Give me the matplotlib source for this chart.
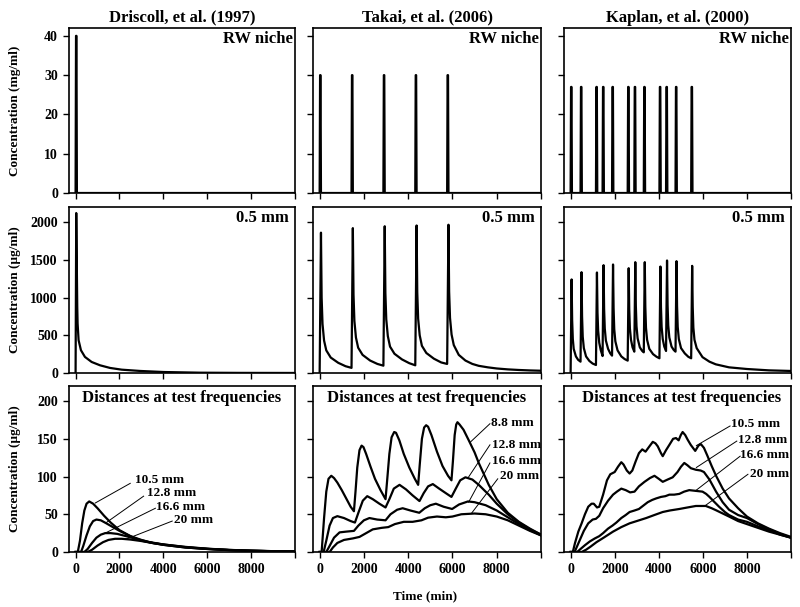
import matplotlib
matplotlib.use("Agg")
import matplotlib.pyplot as plt

plt.rcParams['font.family'] = ['Liberation Serif', 'DejaVu Serif']
plt.rcParams['font.weight'] = 'bold'

# Study titles (columns)
studies = ['Driscoll, et al. (1997)', 'Takai, et al. (2006)', 'Kaplan, et al. (2000)']

# Row 1: RW niche dosing pulses (mg/ml)
pulse_len = 60
driscoll_doses = [0]
driscoll_height = 40
takai_doses = [0, 1440, 2880, 4320, 5760]
takai_height = 30
kaplan_doses = [0, 450, 1150, 1450, 1880, 2590, 2890, 3320, 4030, 4330, 4760, 5470]
kaplan_height = 27

# Row 2: concentration at 0.5 mm (ug/ml)
driscoll_05_t = [0, 30, 76, 92, 137, 244, 427, 733, 1115, 1572, 2107, 2947, 4015, 5695, 7500, 10000]
driscoll_05_c = [0, 2120, 878, 656, 435, 302, 213, 146, 102, 67, 44, 27, 13, 4, 1.5, 0.5]

takai_05_t = [0, 60, 90, 130, 200, 300, 500, 840, 1170, 1440,
              1500, 1530, 1570, 1640, 1740, 1940, 2280, 2610, 2880,
              2940, 2970, 3010, 3080, 3180, 3380, 3720, 4050, 4320,
              4380, 4410, 4450, 4520, 4620, 4820, 5160, 5490, 5760,
              5820, 5850, 5890, 5960, 6060, 6285, 6586, 6900, 7188, 7600, 8000, 8500, 9000, 9500, 10000]
takai_05_c = [0, 1860, 1000, 650, 430, 300, 205, 135, 90, 68,
              1920, 1040, 690, 470, 335, 240, 165, 120, 97,
              1945, 1060, 710, 490, 350, 255, 180, 130, 102,
              1955, 1070, 720, 500, 360, 265, 190, 140, 120,
              1965, 1080, 730, 510, 370, 240, 165, 120, 95, 75, 60, 48, 40, 34, 30]

kaplan_05_t = [0, 45, 70, 100, 140, 240, 340, 450,
               495, 520, 550, 600, 700, 850, 1000, 1150,
               1195, 1220, 1250, 1300, 1370, 1450,
               1495, 1520, 1550, 1600, 1700, 1800, 1880,
               1925, 1950, 1980, 2030, 2130, 2300, 2450, 2590,
               2635, 2660, 2690, 2740, 2810, 2890,
               2935, 2960, 2990, 3040, 3140, 3240, 3320,
               3365, 3390, 3420, 3470, 3570, 3740, 3900, 4030,
               4075, 4100, 4130, 4180, 4250, 4330,
               4375, 4400, 4430, 4480, 4580, 4680, 4760,
               4805, 4830, 4860, 4910, 5010, 5180, 5340, 5470,
               5515, 5540, 5570, 5620, 5720, 5985, 6300, 6586, 7188, 8000, 9000, 10000]
kaplan_05_c = [0, 1240, 700, 450, 320, 220, 175, 150,
               1336, 750, 480, 330, 220, 160, 125, 106,
               1332, 800, 560, 400, 300, 225,
               1429, 850, 590, 430, 320, 260, 230,
               1438, 860, 580, 420, 300, 220, 185, 164,
               1389, 850, 590, 440, 340, 283,
               1469, 890, 620, 460, 340, 295, 274,
               1469, 880, 600, 440, 320, 250, 215, 195,
               1411, 870, 610, 450, 350, 292,
               1491, 900, 630, 470, 350, 305, 283,
               1482, 890, 610, 450, 330, 260, 215, 195,
               1420, 880, 600, 440, 330, 210, 150, 115, 75, 53, 35, 27]

# Row 3: distances at test frequencies (ug/ml)
drisc_105_t = [0, 100, 200, 300, 400, 500, 620, 800, 1000, 1300, 1600, 2000, 2500, 3000, 3500, 4000, 5000, 6000, 7000, 8000, 9000, 10000]
drisc_105_c = [0, 0, 15, 38, 55, 64, 67, 64, 58, 48, 39, 29, 21, 15, 12, 9.5, 6, 4, 2.5, 1.6, 1, 0.7]
drisc_128_t = [0, 250, 350, 500, 650, 800, 950, 1150, 1400, 1700, 2000, 2500, 3000, 3500, 4000, 5000, 6000, 7000, 8000, 9000, 10000]
drisc_128_c = [0, 0, 8, 22, 34, 41, 43, 42, 38, 33, 28, 21, 16, 12, 9.5, 6, 4, 2.5, 1.6, 1, 0.7]
drisc_166_t = [0, 400, 550, 750, 950, 1150, 1350, 1600, 1900, 2300, 2800, 3300, 4000, 5000, 6000, 7000, 8000, 9000, 10000]
drisc_166_c = [0, 0, 4, 12, 19, 23, 25, 25, 24, 21, 17, 13.5, 10, 6.5, 4.2, 2.7, 1.7, 1.1, 0.7]
drisc_20_t = [0, 550, 750, 1000, 1250, 1500, 1800, 2100, 2500, 3000, 3500, 4000, 5000, 6000, 7000, 8000, 9000, 10000]
drisc_20_c = [0, 0, 3, 8.5, 13, 16, 17.5, 17.5, 16.5, 14.5, 12, 10, 6.8, 4.4, 2.8, 1.8, 1.1, 0.7]

takai_88_t = [0, 90, 200, 300, 400, 526, 650, 800, 1000, 1200, 1400, 1549, 1620, 1700, 1800, 1895,
              1980, 2100, 2300, 2500, 2750, 2977, 3050, 3150, 3250, 3368, 3450, 3600, 3800, 4050, 4300, 4451,
              4520, 4620, 4720, 4812, 4900, 5050, 5300, 5550, 5800, 5955, 6020, 6100, 6170, 6226, 6320, 6500,
              6737, 7000, 7188, 7639, 8000, 8500, 9000, 9500, 10000]
takai_88_c = [0, 0, 45, 80, 97, 101, 98, 92, 82, 71, 60, 54, 80, 112, 135, 141,
              139, 130, 113, 97, 82, 70, 95, 130, 152, 159, 158, 148, 130, 112, 97, 89,
              115, 150, 165, 168, 166, 155, 133, 114, 101, 95, 120, 155, 169, 172, 169, 162,
              148, 132, 118, 89, 70, 52, 40, 31, 23]
takai_128_t = [0, 180, 300, 450, 600, 800, 1100, 1400, 1594, 1750, 1950, 2150, 2400, 2700, 2977, 3150, 3350, 3609,
               3900, 4200, 4511, 4700, 4900, 5113, 5400, 5700, 5955, 6150, 6350, 6586, 6900, 7188, 7639, 8000,
               8500, 9000, 9500, 10000]
takai_128_c = [0, 0, 15, 35, 45, 47.5, 45, 41, 39, 52, 68, 74, 70, 64, 59, 70, 84, 89,
               83, 75, 67.5, 78, 87, 90, 84, 78, 73, 84, 95, 99, 96, 89, 76, 64,
               50, 39, 30, 23]
takai_166_t = [0, 300, 450, 650, 900, 1200, 1550, 1750, 2000, 2250, 2600, 2977, 3200, 3500, 3750, 4100, 4500,
               4750, 5000, 5250, 5600, 5985, 6300, 6700, 7000, 7500, 8000, 8500, 9000, 9500, 10000]
takai_166_c = [0, 0, 8, 19, 26, 27, 28, 35, 42, 45, 43, 42, 50, 56, 58, 55, 52,
               58, 62, 64, 60, 57, 63, 67, 66, 62, 55, 46, 37, 29, 22]
takai_20_t = [0, 450, 600, 800, 1100, 1500, 1800, 2100, 2400, 2800, 3100, 3400, 3800, 4200, 4600, 4900, 5300,
              5700, 6000, 6400, 7000, 7500, 8000, 8500, 9000, 9500, 10000]
takai_20_c = [0, 0, 6, 12, 16, 18, 20, 25, 30, 32, 33, 37, 40, 40, 42, 45.5, 47,
              46, 47, 50, 51, 50, 47, 42, 35, 28, 22]

kaplan_105_t = [0, 100, 200, 350, 500, 650, 800, 950, 1050, 1200, 1300, 1474, 1650, 1800, 2000, 2150, 2300, 2400,
                2550, 2677, 2800, 2950, 3100, 3250, 3400, 3550, 3729, 3850, 3955, 4100, 4180, 4330, 4481, 4650,
                4782, 4902, 5000, 5083, 5200, 5308, 5450, 5654, 5800, 5910, 6050, 6200, 6400, 6600, 6900, 7188,
                7600, 8000, 8500, 9000, 9500, 10000]
kaplan_105_c = [0, 0, 12, 27, 38, 50, 60, 64, 64, 59, 60, 76, 95, 103, 106, 113, 119, 116,
                108, 104, 108, 120, 131, 136, 133, 139, 146, 144, 140, 131, 127, 135, 142, 150,
                151, 148, 155, 159, 155, 149, 142, 134, 141, 143, 138, 128, 114, 101, 84, 71,
                58, 47, 38, 31, 25, 20]
kaplan_128_t = [0, 180, 300, 450, 600, 800, 1000, 1150, 1300, 1474, 1700, 1925, 2100, 2300, 2500, 2700, 2900,
                3100, 3353, 3600, 3805, 4000, 4180, 4400, 4632, 4850, 5008, 5158, 5300, 5459, 5684, 5900, 6050,
                6300, 6600, 6900, 7188, 7600, 8000, 8500, 9000, 9500, 10000]
kaplan_128_c = [0, 0, 8, 18, 28, 38, 43, 44, 48, 58, 68, 76, 80, 84, 82, 79, 80,
                87, 93, 98, 101, 97, 93, 96, 99, 106, 113, 118, 115, 111, 109, 108, 106,
                96, 80, 66, 56, 49, 45, 37, 30, 24, 19]
kaplan_166_t = [0, 300, 450, 650, 872, 1100, 1300, 1474, 1700, 1900, 2075, 2300, 2500, 2677, 2900, 3100, 3278,
                3500, 3700, 3880, 4100, 4300, 4481, 4700, 4932, 5150, 5383, 5684, 5985, 6150, 6300, 6500, 6737,
                7000, 7188, 7600, 8000, 8500, 9000, 9500, 10000]
kaplan_166_c = [0, 0, 4, 9, 14, 18, 21, 25, 31, 35, 39, 45, 49, 53, 55, 57, 61,
                66, 69, 71, 73, 74, 76, 76, 77, 80, 82, 81, 80, 77, 73, 67, 60,
                53, 49, 43, 40, 34, 29, 23, 19]
kaplan_20_t = [0, 500, 700, 900, 1173, 1500, 1925, 2300, 2677, 3000, 3429, 3800, 4180, 4500, 4932, 5300, 5684,
               6135, 6400, 6586, 7188, 7600, 8000, 8500, 9000, 9500, 10000]
kaplan_20_c = [0, 0, 3, 7, 13, 19, 27, 33, 38, 41, 45, 49, 53, 55, 57, 59, 61,
               61, 58, 55.5, 47, 41, 37, 32, 27, 23, 19]

# distance labels: text, leader start (t, c), leader end (t, c), text position
drisc_labels = [('10.5 mm', (900, 65), (2491, 91), (2720, 95)),
                ('12.8 mm', (1400, 39), (3101, 74), (3257, 78)),
                ('16.6 mm', (1344, 25), (3638, 58), (3670, 60)),
                ('20 mm', (2300, 17), (4404, 41), (4480, 42))]
takai_labels = [('8.8 mm', (6821, 146), (7693, 170), (7739, 171)),
                ('12.8 mm', (6697, 98), (7693, 142), (7768, 142)),
                ('16.6 mm', (6729, 66), (7693, 118), (7768, 120)),
                ('20 mm', (6853, 51), (8046, 97), (8151, 101))]
kaplan_labels = [('10.5 mm', (5706, 141), (7234, 167), (7290, 169)),
                 ('12.8 mm', (5706, 112), (7541, 147), (7615, 148)),
                 ('16.6 mm', (5660, 81), (7693, 127), (7693, 128)),
                 ('20 mm', (6087, 61), (8046, 103), (8151, 104))]


def pulses(doses, height):
    t, c = [], []
    for d in doses:
        t += [d, d + pulse_len / 3, d + 2 * pulse_len / 3, d + pulse_len]
        c += [0, height, height, 0]
    t.append(10000)
    c.append(0)
    return t, c


fig = plt.figure(figsize=(8, 6.07), dpi=100)

lefts = [69 / 800, 313 / 800, 564 / 800]
widths = [226 / 800, 228 / 800, 227 / 800]
bottoms = [1 - 193 / 607, 1 - 373 / 607, 1 - 552 / 607]
heights = [165 / 607, 166 / 607, 166 / 607]

row1 = [pulses(driscoll_doses, driscoll_height), pulses(takai_doses, takai_height),
        pulses(kaplan_doses, kaplan_height)]
row2 = [(driscoll_05_t, driscoll_05_c), (takai_05_t, takai_05_c), (kaplan_05_t, kaplan_05_c)]
row3 = [[(drisc_105_t, drisc_105_c), (drisc_128_t, drisc_128_c), (drisc_166_t, drisc_166_c), (drisc_20_t, drisc_20_c)],
        [(takai_88_t, takai_88_c), (takai_128_t, takai_128_c), (takai_166_t, takai_166_c), (takai_20_t, takai_20_c)],
        [(kaplan_105_t, kaplan_105_c), (kaplan_128_t, kaplan_128_c), (kaplan_166_t, kaplan_166_c), (kaplan_20_t, kaplan_20_c)]]
labels3 = [drisc_labels, takai_labels, kaplan_labels]

ylims = [42, 2200, 220]
yticks = [range(0, 41, 10), range(0, 2001, 500), range(0, 201, 50)]

for r in range(3):
    for col in range(3):
        ax = fig.add_axes([lefts[col], bottoms[r], widths[col], heights[r]])
        if r == 0:
            ax.plot(row1[col][0], row1[col][1], color='black', lw=1.6)
            ax.text(0.99, 0.933, 'RW niche', transform=ax.transAxes, ha='right', va='center', fontsize=12)
            ax.text(0.5, 1.062, studies[col], transform=ax.transAxes, ha='center', va='center', fontsize=12)
        elif r == 1:
            ax.plot(row2[col][0], row2[col][1], color='black', lw=1.6)
            ax.text(0.972, 0.932, '0.5 mm', transform=ax.transAxes, ha='right', va='center', fontsize=12)
        else:
            for t, c in row3[col]:
                ax.plot(t, c, color='black', lw=1.6)
            for txt, p0, p1, pt in labels3[col]:
                ax.plot([p0[0], p1[0]], [p0[1], p1[1]], color='black', lw=0.7)
                ax.text(pt[0], pt[1], txt, ha='left', va='center', fontsize=9.5)
            xc = 0.52 if col == 2 else 0.5
            ax.text(xc, 0.926, 'Distances at test frequencies', transform=ax.transAxes,
                    ha='center', va='center', fontsize=12)

        ax.set_xlim(-300, 10000)
        ax.set_ylim(0, ylims[r])
        ax.set_xticks(range(0, 10001, 2000))
        ax.set_yticks(list(yticks[r]))
        if r == 2:
            ax.set_xticklabels(['0', '2000', '4000', '6000', '8000', ''])
        else:
            ax.set_xticklabels([])
        if col != 0:
            ax.set_yticklabels([])
        ax.tick_params(direction='out', length=4, width=1, labelsize=10, pad=4)
        for s in ax.spines.values():
            s.set_linewidth(1.2)

# y labels and x label
fig.text(15 / 800, 1 - 110.5 / 607, 'Concentration (mg/ml)', rotation=90, ha='center', va='center', fontsize=9.5)
fig.text(15 / 800, 1 - 290 / 607, 'Concentration (\u00b5g/ml)', rotation=90, ha='center', va='center', fontsize=9.5)
fig.text(15 / 800, 1 - 469 / 607, 'Concentration (\u00b5g/ml)', rotation=90, ha='center', va='center', fontsize=9.5)
fig.text(425 / 800, 1 - 596.7 / 607, 'Time (min)', ha='center', va='center', fontsize=9.5)

plt.savefig('out.png', dpi=100)
